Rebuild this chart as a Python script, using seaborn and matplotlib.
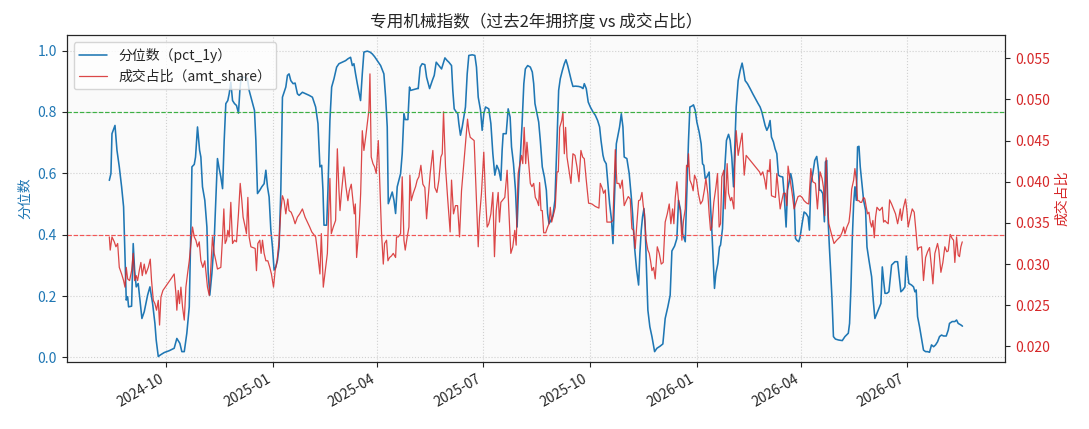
import matplotlib
matplotlib.use("Agg")
import matplotlib.pyplot as plt
import matplotlib.dates as mdates
import seaborn as sns
import pandas as pd

START = "2024-08-13"

# 分位数 pct_1y: day offset from START, value
pct_days = (
    [0.0, 1.4, 2.3, 4.9, 6.6, 8.6, 10.6, 12.3, 13.8, 14.6, 15.8, 16.6, 19.2, 20.6, 21.8, 23.2, 24.9, 26.4, 28.1, 30.1, 33.0, 35.0, 37.3, 39.3, 40.4, 42.2, 43.9, 47.3, 51.6, 55.9, 58.2, 60.8, 62.5, 64.6, 66.8, 68.9, 70.3, 71.2, 73.2, 74.3, 76.0, 77.8, 78.9, 80.3, 82.3, 84.1, 85.2]
    + [86.6, 88.4, 90.4, 91.8, 93.2, 94.7, 96.1, 97.6, 99.0, 100.4, 102.1, 103.3, 104.7, 106.2, 107.9, 109.6, 111.3, 112.5, 113.6, 116.5, 119.1, 120.5, 122.8, 125.1, 126.3, 127.7, 129.7, 131.4, 133.4, 134.9, 136.3, 137.7, 139.2, 140.6, 142.0, 143.5, 144.9, 146.3, 147.8, 149.2, 150.6, 152.1, 153.5, 154.9, 156.4, 158.4, 160.1, 162.1, 163.6, 166.4, 169.3, 172.2, 175.0]
    + [177.8, 179.8, 181.5, 183.0, 184.1, 185.0, 187.3, 188.4, 190.1, 191.6, 193.6, 195.9, 197.9, 200.8, 203.6, 205.6, 207.9, 209.4, 210.8, 212.2, 213.7, 216.5, 218.0, 219.4, 222.3, 224.6, 226.6, 228.6, 230.9, 233.8, 236.6, 238.1, 239.5, 240.4, 242.4, 243.8, 245.3, 246.7, 248.1, 251.0, 252.4, 253.9, 255.0, 257.3, 258.7, 259.6, 262.5, 265.3]
    + [266.2, 267.9, 269.6, 271.9, 273.4, 276.0, 278.3, 280.0, 281.7, 284.0, 286.3, 289.2, 291.2, 292.6, 294.9, 296.0, 297.2, 298.9, 300.3, 301.2, 302.6, 304.1, 306.9, 308.4, 309.8, 312.7, 315.0, 316.4, 317.9, 319.9, 321.3, 322.7, 324.2, 327.0, 328.8, 330.5, 332.2, 333.9, 335.7, 337.4, 338.5, 339.4, 342.0, 343.7, 345.4, 346.6, 348.3, 350.0, 351.4, 352.9, 354.3, 355.7, 357.2]
    + [358.5, 360.5, 362.8, 364.5, 365.7, 366.8, 368.6, 370.0, 371.4, 373.1, 374.9, 376.6, 377.7, 378.9, 380.6, 382.3, 384.0, 385.8, 387.2, 388.6, 390.4, 392.1, 393.5, 395.0, 396.7, 398.1, 399.5, 401.6, 404.4, 406.4, 408.2, 409.3, 411.0, 412.7, 414.5, 416.8, 418.8, 420.8, 422.5, 423.7, 425.4, 426.5, 428.2, 429.4, 431.1, 432.8, 434.0, 435.1, 436.9, 438.0, 439.7, 441.2, 442.6, 443.7, 446.0]
    + [448.0, 449.8, 450.9, 452.6, 454.4, 456.1, 457.2, 458.4, 459.5, 460.7, 461.8, 463.0, 464.1, 465.8, 467.6, 469.9, 471.9, 474.7, 477.0, 479.0, 481.3, 483.3, 484.8, 487.1, 489.1, 490.5, 492.2, 494.0, 496.3, 497.7, 499.1, 500.3, 502.0, 503.4, 504.9, 506.3, 508.3, 510.0, 511.2, 512.3, 513.5, 514.9, 516.9, 518.1, 519.2, 520.4, 521.5, 522.7, 524.4, 525.8, 526.7, 528.4, 530.1, 531.8, 533.6, 535.0]
    + [536.4, 537.9, 539.0, 540.2, 541.9, 543.6, 545.3, 546.5, 547.9, 549.9, 552.2, 554.5, 556.8, 559.1, 560.8, 562.3, 563.7, 565.1, 566.6, 568.0, 569.4, 570.6, 572.3, 573.7, 575.2, 576.6, 578.1, 580.3, 581.5, 583.2, 584.4, 586.1, 587.2, 588.4, 590.1, 591.3, 592.4, 594.1, 595.3, 597.0, 598.7, 600.4, 602.2, 603.3, 604.5, 606.2, 607.9, 609.6, 611.1, 611.9, 613.1, 614.8, 616.2, 617.1, 618.2, 619.4, 620.5, 621.7, 622.8, 624.0, 625.7, 628.3]
    + [631.6, 633.9, 636.8, 637.9, 639.1, 640.2, 641.4, 642.5, 643.7, 644.8, 646.0, 647.1, 648.3, 650.0, 651.7, 652.9, 654.6, 656.9, 658.3, 659.7, 661.5, 663.8, 664.9, 666.1, 667.2, 668.4, 670.1, 671.8, 674.1, 677.0, 679.3, 680.4, 682.1, 683.8, 685.6, 686.7, 687.9, 689.0, 691.3, 693.0, 694.2, 695.3, 696.5, 698.2, 699.9, 701.6, 703.4, 705.1, 706.8, 708.5, 710.3, 712.0, 713.7, 715.4, 717.1, 718.9, 721.2, 722.9, 724.0, 726.3, 728.6, 730.1, 731.5, 733.8, 735.2]
)
pct_vals = (
    [0.577, 0.599, 0.729, 0.756, 0.675, 0.621, 0.556, 0.491, 0.285, 0.187, 0.198, 0.165, 0.167, 0.371, 0.285, 0.230, 0.241, 0.187, 0.127, 0.149, 0.203, 0.230, 0.176, 0.111, 0.057, 0.003, 0.008, 0.016, 0.022, 0.030, 0.062, 0.046, 0.019, 0.019, 0.079, 0.165, 0.425, 0.621, 0.629, 0.653, 0.751, 0.675, 0.653, 0.556, 0.512, 0.425, 0.274]
    + [0.203, 0.274, 0.382, 0.512, 0.648, 0.615, 0.588, 0.550, 0.707, 0.827, 0.837, 0.859, 0.897, 0.837, 0.827, 0.821, 0.796, 0.870, 0.913, 0.913, 0.908, 0.870, 0.837, 0.805, 0.707, 0.534, 0.545, 0.556, 0.566, 0.610, 0.556, 0.523, 0.415, 0.360, 0.285, 0.295, 0.317, 0.360, 0.545, 0.848, 0.864, 0.881, 0.919, 0.924, 0.902, 0.892, 0.894, 0.859, 0.854, 0.864, 0.859, 0.854, 0.848]
    + [0.816, 0.762, 0.621, 0.626, 0.545, 0.431, 0.431, 0.545, 0.772, 0.881, 0.908, 0.946, 0.957, 0.962, 0.967, 0.973, 0.978, 0.951, 0.957, 0.924, 0.892, 0.837, 0.924, 0.995, 0.998, 0.995, 0.989, 0.980, 0.967, 0.951, 0.924, 0.848, 0.751, 0.501, 0.523, 0.539, 0.512, 0.469, 0.556, 0.599, 0.664, 0.794, 0.775, 0.775, 0.881, 0.870, 0.873, 0.876]
    + [0.876, 0.946, 0.957, 0.954, 0.913, 0.876, 0.902, 0.919, 0.962, 0.951, 0.940, 0.976, 0.967, 0.962, 0.951, 0.870, 0.810, 0.800, 0.794, 0.762, 0.724, 0.751, 0.816, 0.924, 0.984, 0.986, 0.984, 0.946, 0.848, 0.805, 0.740, 0.794, 0.816, 0.810, 0.762, 0.664, 0.594, 0.626, 0.610, 0.577, 0.675, 0.729, 0.729, 0.810, 0.783, 0.686, 0.631, 0.545, 0.425, 0.577, 0.664, 0.762, 0.892]
    + [0.940, 0.951, 0.946, 0.930, 0.892, 0.827, 0.794, 0.767, 0.707, 0.621, 0.588, 0.545, 0.469, 0.436, 0.447, 0.463, 0.512, 0.707, 0.870, 0.908, 0.935, 0.957, 0.970, 0.951, 0.924, 0.902, 0.883, 0.884, 0.883, 0.881, 0.876, 0.892, 0.876, 0.832, 0.816, 0.800, 0.789, 0.772, 0.751, 0.707, 0.659, 0.642, 0.631, 0.577, 0.501, 0.447, 0.371, 0.491, 0.696, 0.718, 0.751, 0.794, 0.751, 0.653, 0.648]
    + [0.599, 0.523, 0.469, 0.360, 0.285, 0.236, 0.339, 0.415, 0.458, 0.485, 0.425, 0.274, 0.154, 0.100, 0.068, 0.019, 0.030, 0.037, 0.044, 0.127, 0.165, 0.203, 0.347, 0.363, 0.388, 0.512, 0.480, 0.404, 0.377, 0.545, 0.707, 0.816, 0.819, 0.823, 0.805, 0.767, 0.734, 0.696, 0.631, 0.626, 0.583, 0.588, 0.604, 0.491, 0.415, 0.317, 0.225, 0.274, 0.306, 0.360, 0.366, 0.420, 0.599, 0.707, 0.727, 0.707]
    + [0.653, 0.556, 0.686, 0.816, 0.902, 0.935, 0.959, 0.935, 0.902, 0.892, 0.876, 0.859, 0.843, 0.827, 0.816, 0.800, 0.778, 0.756, 0.740, 0.751, 0.772, 0.718, 0.702, 0.680, 0.664, 0.594, 0.590, 0.588, 0.534, 0.425, 0.545, 0.577, 0.599, 0.577, 0.523, 0.388, 0.382, 0.377, 0.393, 0.436, 0.474, 0.469, 0.458, 0.415, 0.566, 0.599, 0.642, 0.655, 0.610, 0.545, 0.545, 0.534, 0.442, 0.637, 0.642, 0.447, 0.360, 0.274, 0.187, 0.068, 0.060, 0.057]
    + [0.055, 0.068, 0.079, 0.111, 0.230, 0.382, 0.501, 0.556, 0.512, 0.686, 0.688, 0.621, 0.577, 0.512, 0.480, 0.360, 0.317, 0.263, 0.187, 0.127, 0.144, 0.165, 0.176, 0.295, 0.252, 0.209, 0.209, 0.214, 0.301, 0.312, 0.312, 0.274, 0.214, 0.220, 0.230, 0.330, 0.274, 0.241, 0.236, 0.230, 0.214, 0.220, 0.133, 0.100, 0.062, 0.024, 0.019, 0.019, 0.017, 0.041, 0.035, 0.041, 0.051, 0.068, 0.073, 0.070, 0.070, 0.089, 0.111, 0.117, 0.117, 0.122, 0.111, 0.106, 0.102]
)

# 成交占比 amt_share: day offset from START, value
amt_days = (
    [0.0, 0.8, 2.3, 4.3, 5.7, 7.2, 8.6, 10.6, 12.3, 13.5, 14.6, 15.8, 17.5, 19.2, 20.6, 21.8, 23.2, 24.4, 25.8, 27.2, 28.4, 30.1, 31.5, 33.6, 35.3, 36.4, 37.9, 39.3, 40.7, 42.2, 43.3, 44.5, 46.2, 48.2, 50.2, 53.1, 55.9, 57.4, 58.2, 59.4, 60.5, 61.7, 63.1, 64.6, 66.0, 67.4, 68.9, 70.3, 71.7, 73.2, 74.6, 76.0, 77.5, 78.9, 80.6, 82.3]
    + [84.6, 86.1, 87.5, 88.9, 90.4, 91.8, 93.2, 96.1, 97.6, 98.7, 99.8, 101.0, 102.1, 103.3, 104.7, 106.2, 107.9, 109.6, 111.3, 112.8, 114.2, 115.3, 117.1, 118.2, 119.4, 120.5, 122.0, 125.7, 126.8, 128.0, 129.7, 130.8, 132.0, 133.4, 134.9, 136.6, 138.3, 139.7, 141.5, 142.9, 144.6, 146.3, 147.8, 149.2, 150.6, 152.1, 153.8, 154.9, 156.7, 158.4, 160.1, 162.1, 164.1, 166.4, 168.7, 170.7, 172.7, 174.5]
    + [177.8, 179.2, 181.5, 182.7, 184.4, 185.8, 187.9, 189.0, 190.1, 191.3, 193.0, 195.0, 196.5, 197.9, 198.8, 200.2, 202.2, 203.9, 205.6, 206.8, 208.5, 209.9, 211.1, 212.0, 213.1, 214.3, 215.4, 216.6, 218.0, 219.4, 220.9, 222.3, 223.7, 224.6, 225.7, 227.2, 228.6, 230.0, 231.8, 233.2, 234.6, 236.1, 237.2, 238.9, 240.1, 241.5, 243.2, 244.7, 246.7, 247.5, 249.0, 251.0, 252.4, 253.9, 255.0, 256.7, 258.2, 259.0, 260.2, 261.9, 263.9]
    + [265.3, 266.8, 268.5, 270.2, 271.9, 273.4, 274.8, 276.5, 278.8, 280.5, 282.3, 284.0, 285.7, 286.9, 288.0, 289.7, 291.5, 293.7, 294.9, 296.6, 298.3, 300.1, 301.8, 303.5, 305.2, 306.9, 308.7, 309.8, 311.0, 312.7, 314.4, 316.1, 317.9, 319.0, 320.7, 322.7, 324.2, 325.6, 327.0, 328.8, 330.5, 331.9, 333.4, 335.1, 336.2, 337.4, 339.1, 340.8, 342.8, 344.3, 346.0, 347.7, 349.4, 350.6, 352.3, 353.4, 355.2, 356.3, 357.5]
    + [358.8, 359.9, 361.4, 362.8, 364.2, 365.7, 367.1, 368.6, 370.0, 370.8, 372.0, 373.1, 374.3, 376.0, 377.7, 378.9, 380.0, 381.2, 382.9, 384.3, 385.8, 386.9, 388.1, 389.8, 390.9, 392.1, 393.2, 394.4, 396.1, 397.8, 399.5, 401.3, 403.0, 404.7, 406.4, 407.9, 409.3, 411.0, 413.0, 415.9, 418.8, 421.9, 423.1, 424.8, 425.9, 427.4, 428.8, 430.3, 432.3, 434.0, 436.0, 437.4, 439.2, 440.3, 442.0, 443.7, 445.5, 447.2]
    + [448.9, 450.3, 451.8, 453.2, 454.4, 456.1, 457.5, 459.0, 460.1, 461.2, 462.4, 464.1, 465.3, 466.4, 467.6, 469.0, 470.4, 472.2, 473.9, 475.6, 477.3, 479.0, 480.8, 482.5, 483.9, 485.4, 486.5, 487.7, 489.1, 490.5, 492.0, 493.4, 494.8, 496.3, 497.4, 498.6, 499.1, 500.3, 502.0, 503.1, 504.3, 506.0, 507.7, 509.5, 511.2, 512.9, 514.1, 515.8, 516.9, 518.1, 519.2, 520.9, 522.7, 524.1, 525.5, 526.7, 527.8, 529.6, 530.7, 532.4, 533.6, 535.3, 536.4, 538.2]
    + [539.0, 540.2, 541.9, 543.6, 545.3, 547.1, 548.8, 551.1, 553.4, 555.7, 558.0, 560.3, 561.4, 563.1, 564.8, 566.0, 567.1, 568.6, 569.4, 570.6, 572.3, 574.0, 575.2, 576.6, 578.1, 579.5, 580.9, 582.6, 583.8, 584.9, 586.7, 588.4, 590.1, 591.8, 593.5, 595.3, 597.0, 598.7, 601.0, 602.7, 604.5, 606.2, 608.5, 610.2, 612.5, 614.2, 615.4, 616.5, 617.7, 618.8, 620.0, 622.2, 624.5, 626.8, 629.7]
    + [631.6, 632.8, 633.9, 635.6, 637.4, 638.5, 639.7, 641.4, 642.5, 643.7, 644.8, 646.0, 647.1, 648.3, 650.0, 651.1, 652.3, 653.4, 654.6, 655.7, 656.9, 658.0, 659.2, 660.3, 661.5, 662.6, 663.8, 664.9, 666.1, 667.2, 668.4, 669.5, 671.2, 672.4, 674.1, 675.8, 677.5, 679.3, 680.4, 681.6, 682.7, 684.4, 686.1, 687.3, 688.4, 690.2, 691.9, 693.6, 695.3, 696.5, 697.6, 699.9, 701.6, 703.4, 705.1, 706.8, 708.5, 709.7, 711.4, 713.7, 714.8, 716.6, 718.3, 720.0, 721.7, 722.9, 724.6, 726.3, 727.5, 728.6, 730.1, 731.5, 732.6, 733.8, 735.0]
)
amt_vals = (
    [0.0333, 0.0317, 0.0333, 0.0327, 0.0321, 0.0325, 0.0296, 0.0288, 0.0280, 0.0272, 0.0296, 0.0282, 0.0280, 0.0292, 0.0313, 0.0280, 0.0286, 0.0280, 0.0292, 0.0302, 0.0286, 0.0300, 0.0288, 0.0296, 0.0306, 0.0280, 0.0256, 0.0252, 0.0244, 0.0256, 0.0226, 0.0260, 0.0268, 0.0272, 0.0276, 0.0282, 0.0288, 0.0264, 0.0244, 0.0268, 0.0252, 0.0272, 0.0248, 0.0232, 0.0272, 0.0288, 0.0304, 0.0325, 0.0345, 0.0333, 0.0329, 0.0321, 0.0327, 0.0304, 0.0296, 0.0304]
    + [0.0272, 0.0262, 0.0296, 0.0333, 0.0313, 0.0304, 0.0294, 0.0296, 0.0333, 0.0367, 0.0325, 0.0329, 0.0341, 0.0333, 0.0375, 0.0325, 0.0329, 0.0327, 0.0361, 0.0398, 0.0377, 0.0357, 0.0345, 0.0337, 0.0381, 0.0333, 0.0321, 0.0319, 0.0292, 0.0325, 0.0329, 0.0313, 0.0329, 0.0313, 0.0304, 0.0304, 0.0296, 0.0288, 0.0272, 0.0292, 0.0304, 0.0329, 0.0365, 0.0383, 0.0377, 0.0361, 0.0379, 0.0365, 0.0363, 0.0357, 0.0349, 0.0357, 0.0361, 0.0367, 0.0357, 0.0351, 0.0345, 0.0339]
    + [0.0333, 0.0317, 0.0288, 0.0337, 0.0272, 0.0288, 0.0313, 0.0361, 0.0404, 0.0337, 0.0345, 0.0353, 0.0440, 0.0389, 0.0365, 0.0389, 0.0418, 0.0394, 0.0377, 0.0389, 0.0397, 0.0377, 0.0361, 0.0373, 0.0308, 0.0329, 0.0349, 0.0386, 0.0462, 0.0438, 0.0454, 0.0470, 0.0487, 0.0531, 0.0430, 0.0422, 0.0418, 0.0410, 0.0450, 0.0394, 0.0337, 0.0300, 0.0325, 0.0329, 0.0304, 0.0308, 0.0310, 0.0313, 0.0308, 0.0333, 0.0333, 0.0337, 0.0406, 0.0329, 0.0317, 0.0333, 0.0345, 0.0408, 0.0377, 0.0386, 0.0394]
    + [0.0402, 0.0406, 0.0420, 0.0397, 0.0393, 0.0355, 0.0381, 0.0410, 0.0438, 0.0393, 0.0387, 0.0402, 0.0430, 0.0434, 0.0485, 0.0418, 0.0381, 0.0339, 0.0402, 0.0361, 0.0371, 0.0371, 0.0333, 0.0389, 0.0418, 0.0446, 0.0476, 0.0462, 0.0454, 0.0452, 0.0450, 0.0386, 0.0321, 0.0357, 0.0386, 0.0436, 0.0381, 0.0345, 0.0349, 0.0361, 0.0387, 0.0309, 0.0365, 0.0387, 0.0351, 0.0375, 0.0378, 0.0381, 0.0414, 0.0365, 0.0313, 0.0321, 0.0341, 0.0323, 0.0410, 0.0418, 0.0432, 0.0422, 0.0466]
    + [0.0422, 0.0448, 0.0422, 0.0398, 0.0394, 0.0398, 0.0381, 0.0377, 0.0371, 0.0399, 0.0365, 0.0365, 0.0338, 0.0338, 0.0345, 0.0349, 0.0369, 0.0351, 0.0361, 0.0369, 0.0412, 0.0412, 0.0466, 0.0474, 0.0485, 0.0434, 0.0466, 0.0430, 0.0414, 0.0398, 0.0434, 0.0432, 0.0418, 0.0400, 0.0438, 0.0430, 0.0428, 0.0402, 0.0374, 0.0373, 0.0370, 0.0368, 0.0398, 0.0392, 0.0386, 0.0390, 0.0351, 0.0351, 0.0351, 0.0353, 0.0439, 0.0398, 0.0398, 0.0392, 0.0402, 0.0371, 0.0377, 0.0382]
    + [0.0379, 0.0343, 0.0341, 0.0319, 0.0345, 0.0377, 0.0378, 0.0387, 0.0371, 0.0361, 0.0331, 0.0317, 0.0313, 0.0304, 0.0292, 0.0296, 0.0282, 0.0321, 0.0313, 0.0300, 0.0302, 0.0351, 0.0361, 0.0373, 0.0349, 0.0367, 0.0349, 0.0381, 0.0400, 0.0377, 0.0365, 0.0329, 0.0353, 0.0367, 0.0420, 0.0418, 0.0434, 0.0402, 0.0396, 0.0389, 0.0408, 0.0402, 0.0385, 0.0373, 0.0377, 0.0391, 0.0404, 0.0385, 0.0361, 0.0341, 0.0345, 0.0375, 0.0393, 0.0410, 0.0345, 0.0349, 0.0406, 0.0414, 0.0367, 0.0422, 0.0386, 0.0377, 0.0381, 0.0367]
    + [0.0418, 0.0462, 0.0432, 0.0446, 0.0459, 0.0408, 0.0432, 0.0428, 0.0424, 0.0420, 0.0416, 0.0412, 0.0408, 0.0412, 0.0402, 0.0391, 0.0414, 0.0412, 0.0427, 0.0383, 0.0382, 0.0381, 0.0410, 0.0389, 0.0367, 0.0377, 0.0386, 0.0386, 0.0371, 0.0419, 0.0402, 0.0386, 0.0367, 0.0375, 0.0382, 0.0383, 0.0381, 0.0377, 0.0374, 0.0373, 0.0416, 0.0400, 0.0398, 0.0367, 0.0412, 0.0404, 0.0393, 0.0359, 0.0429, 0.0377, 0.0349, 0.0337, 0.0325, 0.0329, 0.0333]
    + [0.0339, 0.0345, 0.0337, 0.0345, 0.0351, 0.0365, 0.0391, 0.0402, 0.0416, 0.0402, 0.0377, 0.0377, 0.0375, 0.0375, 0.0381, 0.0379, 0.0369, 0.0361, 0.0363, 0.0351, 0.0345, 0.0353, 0.0332, 0.0357, 0.0369, 0.0367, 0.0365, 0.0367, 0.0369, 0.0351, 0.0353, 0.0351, 0.0349, 0.0378, 0.0373, 0.0367, 0.0361, 0.0349, 0.0357, 0.0367, 0.0353, 0.0369, 0.0379, 0.0365, 0.0345, 0.0357, 0.0367, 0.0363, 0.0337, 0.0317, 0.0320, 0.0321, 0.0280, 0.0308, 0.0315, 0.0320, 0.0296, 0.0276, 0.0313, 0.0325, 0.0317, 0.0290, 0.0302, 0.0321, 0.0315, 0.0316, 0.0336, 0.0331, 0.0329, 0.0302, 0.0333, 0.0311, 0.0309, 0.0321, 0.0327]
)

assert len(pct_days) == len(pct_vals), (len(pct_days), len(pct_vals))
assert len(amt_days) == len(amt_vals), (len(amt_days), len(amt_vals))

start = pd.Timestamp(START)
pct_df = pd.DataFrame({"date": start + pd.to_timedelta(pct_days, unit="D"), "pct_1y": pct_vals})
amt_df = pd.DataFrame({"date": start + pd.to_timedelta(amt_days, unit="D"), "amt_share": amt_vals})

sns.set_style("ticks")
plt.rcParams["font.family"] = ["Noto Sans CJK SC", "DejaVu Sans"]
plt.rcParams["axes.unicode_minus"] = False

fig, ax = plt.subplots(figsize=(10.89, 4.29), dpi=100)
fig.subplots_adjust(left=0.0612, right=0.923, top=0.918, bottom=0.156)
ax.set_facecolor("#fafafa")
for sp in ax.spines.values():
    sp.set_color("black")

blue = "#1f77b4"
red = "#d62728"

sns.lineplot(data=pct_df, x="date", y="pct_1y", ax=ax, color=blue, linewidth=1.15,
             label="分位数（pct_1y）", legend=False)
ax.set_ylim(-0.015, 1.05)
ax.set_ylabel("分位数", color=blue, fontsize=10)
ax.set_xlabel("")
ax.tick_params(axis="y", labelcolor=blue, labelsize=10)
ax.tick_params(axis="x", labelsize=10)
ax.grid(True, linestyle=":", color="#d0d0d0", linewidth=0.8)

ax2 = ax.twinx()
sns.lineplot(data=amt_df, x="date", y="amt_share", ax=ax2, color=red, linewidth=0.9,
             alpha=0.85, label="成交占比（amt_share）", legend=False)
ax2.set_ylim(0.0181, 0.0578)
ax2.set_ylabel("成交占比", color=red, fontsize=10)
ax2.tick_params(axis="y", labelcolor=red, labelsize=10)
ax2.set_xlabel("")

# threshold guides drawn on the top axes so the grid does not tint them
for level, colour in [(0.8, "#3cb043"), (0.4, "#f25555")]:
    ax2.axhline(ax2.transData.inverted().transform(ax.transData.transform((0, level)))[1],
                color=colour, linestyle="--", linewidth=0.85)

ax.xaxis.set_major_locator(mdates.MonthLocator(bymonth=[1, 4, 7, 10]))
ax.xaxis.set_major_formatter(mdates.DateFormatter("%Y-%m"))
for lbl in ax.get_xticklabels():
    lbl.set_rotation(30)
    lbl.set_ha("right")

h1, l1 = ax.get_legend_handles_labels()
h2, l2 = ax2.get_legend_handles_labels()
leg = ax2.legend(h1 + h2, l1 + l2, loc="upper left", fontsize=10, framealpha=0.8)

ax.set_title("专用机械指数（过去2年拥挤度 vs 成交占比）", fontsize=12)

fig.savefig("out.png", dpi=100)
